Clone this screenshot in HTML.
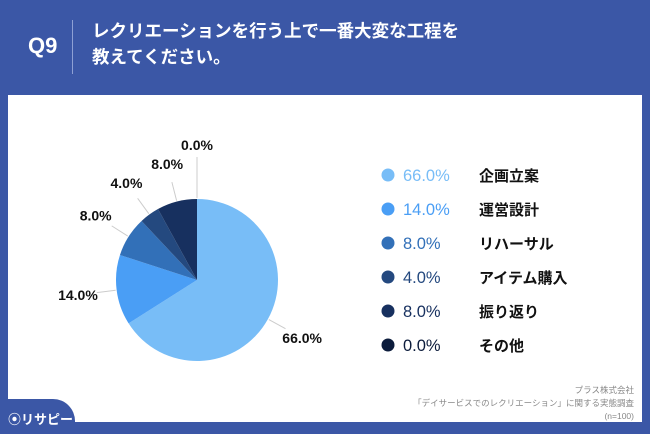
<!DOCTYPE html>
<html><head><meta charset="utf-8"><style>
body{margin:0;width:650px;height:434px;overflow:hidden;background:#3b57a6;font-family:"Liberation Sans","Noto Sans CJK JP",sans-serif;}
.abs{position:absolute}
</style></head><body>
<div class="abs" style="left:0;top:0;width:650px;height:95px;">
 <div class="abs" style="left:28px;top:33px;color:#fff;font-weight:bold;font-size:22px;">Q9</div>
 <div class="abs" style="left:72px;top:20px;width:1px;height:54px;background:#8ea0d4;"></div>
 <div class="abs" style="left:92px;top:18px;color:#fff;font-weight:bold;font-size:17.5px;line-height:26px;">レクリエーションを行う上で一番大変な工程を<br>教えてください。</div>
</div>
<div class="abs" style="left:8px;top:95px;width:634px;height:327px;background:#fff;"></div>
<div class="abs" style="left:0;top:399px;width:75px;height:35px;background:#3b57a6;border-top-right-radius:22px;"></div>
<div class="abs" style="left:8px;top:409px;color:#fff;font-size:13px;font-weight:bold;white-space:nowrap;">⦿リサピー</div>
<div class="abs" style="left:340px;top:384px;width:294px;text-align:right;color:#888;font-size:8.5px;line-height:13px;">プラス株式会社<br>「デイサービスでのレクリエーション」に関する実態調査<br>(n=100)</div>
<svg class="abs" style="left:0;top:0" width="650" height="434">
<g id="pie"></g><g id="legend"></g>
</svg>
<script>
const categories=["企画立案","運営設計","リハーサル","アイテム購入","振り返り","その他"];
const values=[66.0,14.0,8.0,4.0,8.0,0.0];
const colors=["#78bdf7","#4a9ef5","#3270b8","#24497f","#17305f","#0c1c3c"];
const NS="http://www.w3.org/2000/svg";
const cx=197,cy=280,r=81;
const pie=document.getElementById('pie'),leg=document.getElementById('legend');
function pt(a,rr){return [cx+rr*Math.sin(a),cy-rr*Math.cos(a)];}
const total=values.reduce((a,b)=>a+b,0);
let acc=0;
values.forEach((v,i)=>{
 const a0=acc/total*2*Math.PI;acc+=v;const a1=acc/total*2*Math.PI;
 if(v>0){
  const p=document.createElementNS(NS,'path');
  const [x0,y0]=pt(a0,r),[x1,y1]=pt(a1,r);
  p.setAttribute('d',`M${cx},${cy}L${x0},${y0}A${r},${r} 0 ${a1-a0>Math.PI?1:0} 1 ${x1},${y1}Z`);
  p.setAttribute('fill',colors[i]);
  
  
  pie.appendChild(p);
 }
 const am=(a0+a1)/2;
 const [lx0,ly0]=pt(am,r+1),[lx1,ly1]=pt(am,v===0?r+42:r+20);
 const ln=document.createElementNS(NS,'line');
 ln.setAttribute('x1',lx0);ln.setAttribute('y1',ly0);ln.setAttribute('x2',lx1);ln.setAttribute('y2',ly1);
 ln.setAttribute('stroke','#ccc');ln.setAttribute('stroke-width','1');
 
 
 pie.appendChild(ln);
 let [tx,ty]=pt(am,120);if(v===0)ty-=15;
 const t=document.createElementNS(NS,'text');
 t.setAttribute('x',tx);t.setAttribute('y',ty+5);t.setAttribute('text-anchor','middle');
 t.setAttribute('font-size','14');t.setAttribute('font-weight','bold');t.setAttribute('fill','#111');
 t.textContent=v.toFixed(1)+'%';
 
 
 pie.appendChild(t);
 const y=175+i*34;
 const c=document.createElementNS(NS,'circle');
 c.setAttribute('cx',388);c.setAttribute('cy',y);c.setAttribute('r',6.5);c.setAttribute('fill',colors[i]);
 
 
 leg.appendChild(c);
 const pv=document.createElementNS(NS,'text');
 pv.setAttribute('x',403);pv.setAttribute('y',y+6);pv.setAttribute('font-size','16.5');pv.setAttribute('fill',colors[i]);
 pv.textContent=v.toFixed(1)+'%';
 
 
 leg.appendChild(pv);
 const lb=document.createElementNS(NS,'text');
 lb.setAttribute('x',479);lb.setAttribute('y',y+6);lb.setAttribute('font-size','15');lb.setAttribute('font-weight','bold');lb.setAttribute('fill','#111');
 lb.textContent=categories[i];
 
 
 leg.appendChild(lb);
});
</script>
</body></html>
